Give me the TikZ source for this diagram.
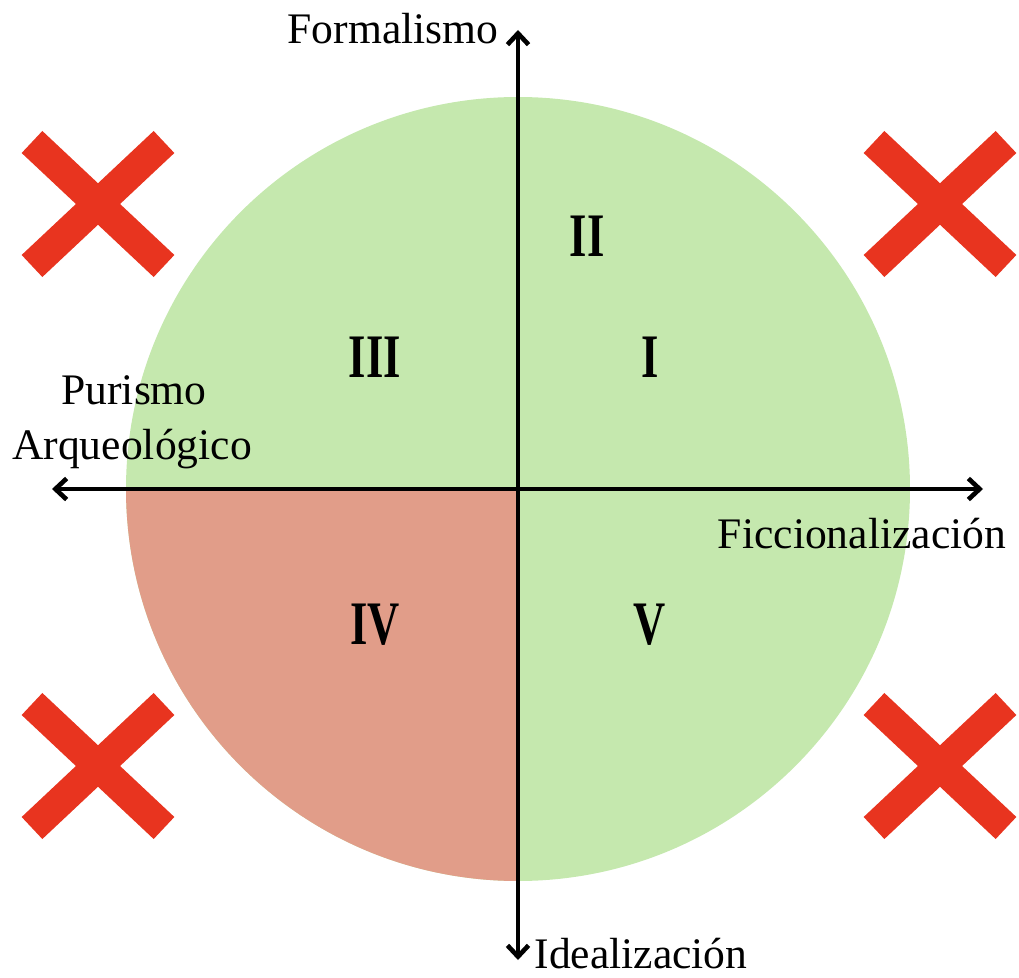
\documentclass[tikz,border=0pt]{standalone}
\usepackage{fontspec}
\setmainfont{Liberation Serif}
\usetikzlibrary{arrows.meta}
\definecolor{qgreen}{HTML}{C5E8AE}
\definecolor{qsalmon}{HTML}{E19D89}
\definecolor{xred}{HTML}{E8341F}
\begin{document}
\begin{tikzpicture}[x=0.025cm,y=-0.025cm,
  axis/.style={line width=3.3pt,{Straight Barb[length=8pt,width=15pt,line width=3.3pt]}-{Straight Barb[length=8pt,width=15pt,line width=3.3pt]}},
  axlabel/.style={font=\fontsize{31}{36}\selectfont,inner sep=0pt,anchor=base},
  numeral/.style={font=\fontsize{44}{50}\selectfont\bfseries,inner sep=0pt},
  xarm/.style={line width=21.5pt,xred,line cap=butt}]
\useasboundingbox (0,0) rectangle (1019,978);
% circle
\coordinate (c) at (518,489);
\fill[qgreen] (c) circle [radius=392];
\fill[qsalmon] (c) -- (126,489) arc[start angle=180,end angle=90,radius=392] -- cycle;
% axes
\coordinate (top) at (518,30);
\coordinate (bot) at (518,960);
\coordinate (lft) at (52,489);
\coordinate (rgt) at (983,489);
\draw[axis] (bot) -- (top);
\draw[axis] (lft) -- (rgt);
% labels
\node[axlabel] (form) at (393,44) {Formalismo};
\node[axlabel] (pur) at (134,404) {Purismo};
\node[axlabel] (arq) at (132,459) {Arqueológico};
\node[axlabel] (fic) at (862,548) {Ficcionalización};
\node[axlabel] (ide) at (641,968) {Idealización};
% numerals
\node[numeral] (n2) at (587,236) {\scalebox{0.72}[1]{II}};
\node[numeral] (n3) at (375,357) {\scalebox{0.72}[1]{III}};
\node[numeral] (n1) at (650,357) {\scalebox{0.72}[1]{I}};
\node[numeral] (n4) at (375,625) {\scalebox{0.72}[1]{IV}};
\node[numeral] (n5) at (650,625) {\scalebox{0.72}[1]{V}};
% crosses
\foreach \cx/\cy in {98/204, 940/204, 98/766, 940/766}{
  \draw[xarm] (\cx-66,\cy-62) -- (\cx+66,\cy+62);
  \draw[xarm] (\cx+66,\cy-62) -- (\cx-66,\cy+62);
}
\end{tikzpicture}
\end{document}
